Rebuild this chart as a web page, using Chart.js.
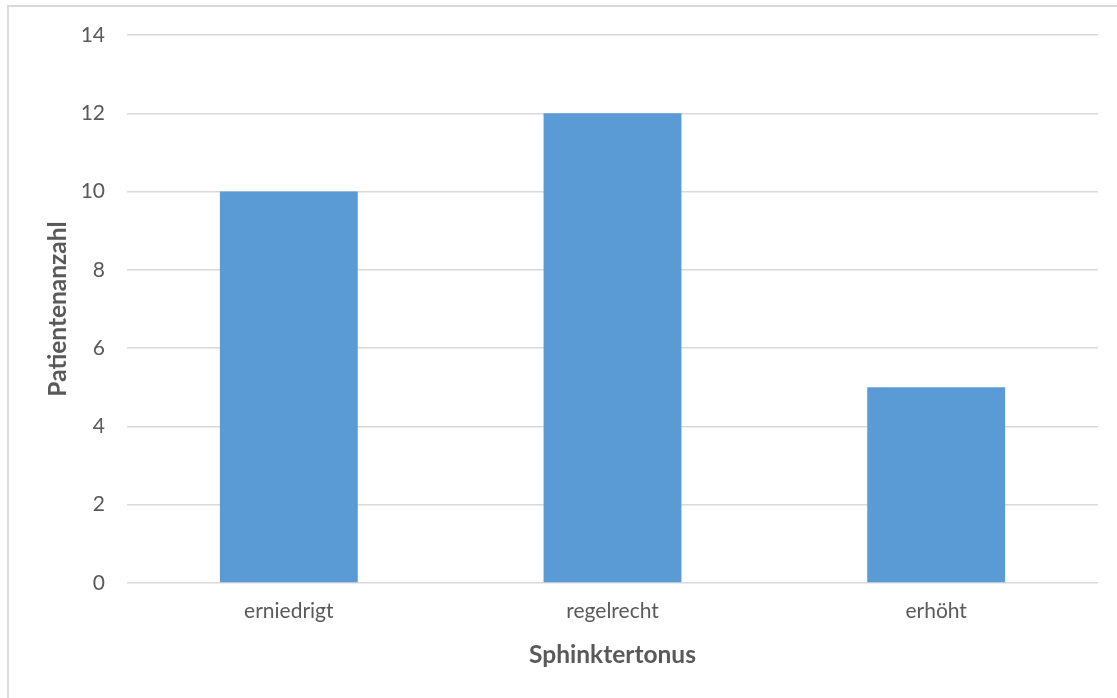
<!DOCTYPE html>
<html>
<head>
<meta charset="utf-8">
<script src="https://cdn.jsdelivr.net/npm/chart.js@4"></script>
<style>
  html, body { margin: 0; padding: 0; background: #fff; overflow: hidden; }
  #frame {
    position: absolute; left: 7px; top: 5px; width: 2000px; height: 2000px;
    border-left: 2px solid #d9d9d9; border-top: 2px solid #d9d9d9;
  }
  #wrap { position: absolute; left: 0; top: 0; width: 1117px; height: 698px; }
</style>
</head>
<body>
<div id="frame"></div>
<div id="wrap"><canvas id="chart" width="1117" height="698"></canvas></div>
<script>
// Patient counts per sphincter tone category
const categories = ['erniedrigt', 'regelrecht', 'erhöht'];
const patientCounts = [10, 12, 5];
const yTicks = [0, 2, 4, 6, 8, 10, 12, 14];

const textColor = '#595959';
const fontFamily = 'Lato, "Open Sans", sans-serif';

new Chart(document.getElementById('chart'), {
  type: 'bar',
  data: {
    labels: categories,
    datasets: [{
      data: patientCounts,
      backgroundColor: '#5b9bd5',
      borderWidth: 0,
      categoryPercentage: 1,
      barPercentage: 0.426
    }]
  },
  options: {
    responsive: false,
    animation: false,
    devicePixelRatio: 1,
    layout: { padding: { top: 35, right: 19, left: 0, bottom: 0 } },
    plugins: { legend: { display: false }, tooltip: { enabled: false } },
    scales: {
      x: {
        grid: { display: false, drawTicks: false },
        border: { display: false },
        ticks: { color: textColor, font: { family: fontFamily, size: 21 }, padding: 16 },
        title: {
          display: true, text: 'Sphinktertonus', color: textColor,
          font: { family: fontFamily, size: 24.5, weight: 'bold' },
          padding: { top: 0, bottom: 28 }
        },
        afterFit(scale) { scale.height = 115; }
      },
      y: {
        min: 0, max: 14,
        afterBuildTicks(scale) { scale.ticks = yTicks.map(v => ({ value: v })); },
        grid: { color: '#d9d9d9', lineWidth: 1.5, drawTicks: false },
        border: { display: false },
        ticks: { color: textColor, font: { family: fontFamily, size: 21 }, padding: 22 },
        title: {
          display: true, text: 'Patientenanzahl', color: textColor,
          font: { family: fontFamily, size: 24.5, weight: 'bold' },
          padding: { top: 43, bottom: 0 }
        },
        afterFit(scale) { scale.width = 127; }
      }
    }
  }
});
</script>
</body>
</html>
